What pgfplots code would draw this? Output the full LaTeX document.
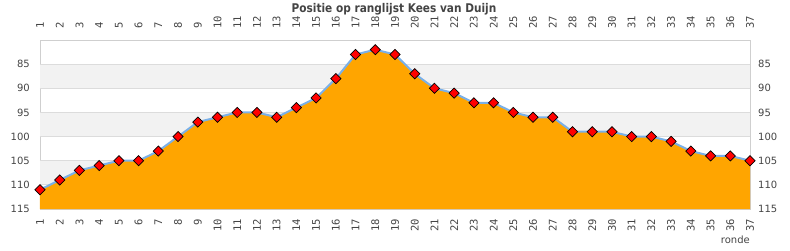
\documentclass[border=0pt]{standalone}
\usepackage{fontspec}
\setmainfont{DejaVu Sans}
\newfontfamily\monofont{DejaVu Sans Mono}
\newfontfamily\titlefont{DejaVu Sans}[FakeStretch=0.88]
\usepackage{pgfplots}
\pgfplotsset{compat=1.18}
\definecolor{bandgray}{HTML}{F2F2F2}
\definecolor{gridgray}{HTML}{DCDCDC}
\definecolor{bordergray}{HTML}{CFCFCF}
\definecolor{txtgray}{HTML}{444444}
\definecolor{areaorange}{HTML}{FFA500}
\definecolor{lineblue}{HTML}{7AB0E8}
\begin{document}
\begin{tikzpicture}[x=1pt,y=1pt]
\path[use as bounding box] (0,0) rectangle (790,250);
\begin{axis}[
  at={(40pt,41pt)}, anchor=south west,
  scale only axis, width=710pt, height=169pt,
  xmin=1, xmax=37, ymin=80, ymax=115, y dir=reverse,
  xtick={1,...,37}, ytick={85,90,...,115},
  major tick length=0pt,
  axis line style={draw=bordergray},
  xticklabel pos=lower, yticklabel pos=left,
  xticklabel style={rotate=90, anchor=east, inner sep=0pt, font=\monofont\fontsize{10.5}{11}\selectfont, text=txtgray},
  yticklabel style={anchor=east, inner sep=0pt, font=\fontsize{10}{12}\selectfont, text=txtgray},
  xticklabel shift=10pt, yticklabel shift=10pt,
  /pgf/number format/assume math mode=true,
  clip=true,
]
\fill[bandgray] (axis cs:1,85) rectangle (axis cs:37,90);
\fill[bandgray] (axis cs:1,95) rectangle (axis cs:37,100);
\fill[bandgray] (axis cs:1,105) rectangle (axis cs:37,110);
\draw[gridgray, line width=0.8pt] (axis cs:1,85) -- (axis cs:37,85);
\draw[gridgray, line width=0.8pt] (axis cs:1,90) -- (axis cs:37,90);
\draw[gridgray, line width=0.8pt] (axis cs:1,95) -- (axis cs:37,95);
\draw[gridgray, line width=0.8pt] (axis cs:1,100) -- (axis cs:37,100);
\draw[gridgray, line width=0.8pt] (axis cs:1,105) -- (axis cs:37,105);
\draw[gridgray, line width=0.8pt] (axis cs:1,110) -- (axis cs:37,110);
\addplot[fill=areaorange, draw=none] coordinates {
(1,111) (2,109) (3,107) (4,106) (5,105) (6,105) (7,103) (8,100) (9,97) (10,96)
(11,95) (12,95) (13,96) (14,94) (15,92) (16,88) (17,83) (18,82) (19,83) (20,87)
(21,90) (22,91) (23,93) (24,93) (25,95) (26,96) (27,96) (28,99) (29,99) (30,99)
(31,100) (32,100) (33,101) (34,103) (35,104) (36,104) (37,105) (37,115) (1,115)
} -- cycle;
\addplot[color=lineblue, line width=2pt, mark=square*, mark size=3.6pt,
  mark options={rotate=45, fill=red, draw=black, line width=0.7pt, solid}] coordinates {
(1,111) (2,109) (3,107) (4,106) (5,105) (6,105) (7,103) (8,100) (9,97) (10,96)
(11,95) (12,95) (13,96) (14,94) (15,92) (16,88) (17,83) (18,82) (19,83) (20,87)
(21,90) (22,91) (23,93) (24,93) (25,95) (26,96) (27,96) (28,99) (29,99) (30,99)
(31,100) (32,100) (33,101) (34,103) (35,104) (36,104) (37,105)
};
\end{axis}
\begin{axis}[
  at={(40pt,41pt)}, anchor=south west,
  scale only axis, width=710pt, height=169pt,
  xmin=1, xmax=37, ymin=80, ymax=115, y dir=reverse,
  xtick={1,...,37}, ytick={85,90,...,115},
  major tick length=0pt,
  axis line style={draw=none},
  xticklabel pos=upper, yticklabel pos=right,
  xticklabel style={rotate=90, anchor=west, inner sep=0pt, font=\monofont\fontsize{10.5}{11}\selectfont, text=txtgray},
  yticklabel style={anchor=west, inner sep=0pt, font=\fontsize{10}{12}\selectfont, text=txtgray},
  xticklabel shift=11pt, yticklabel shift=8pt,
  /pgf/number format/assume math mode=true,
]
\end{axis}
\node[font=\titlefont\bfseries\fontsize{12}{14}\selectfont, text=txtgray] at (394,241) {Positie op ranglijst Kees van Duijn};
\node[anchor=east, inner sep=0pt, font=\fontsize{10}{12}\selectfont, text=txtgray] at (750,10) {ronde};
\end{tikzpicture}
\end{document}
